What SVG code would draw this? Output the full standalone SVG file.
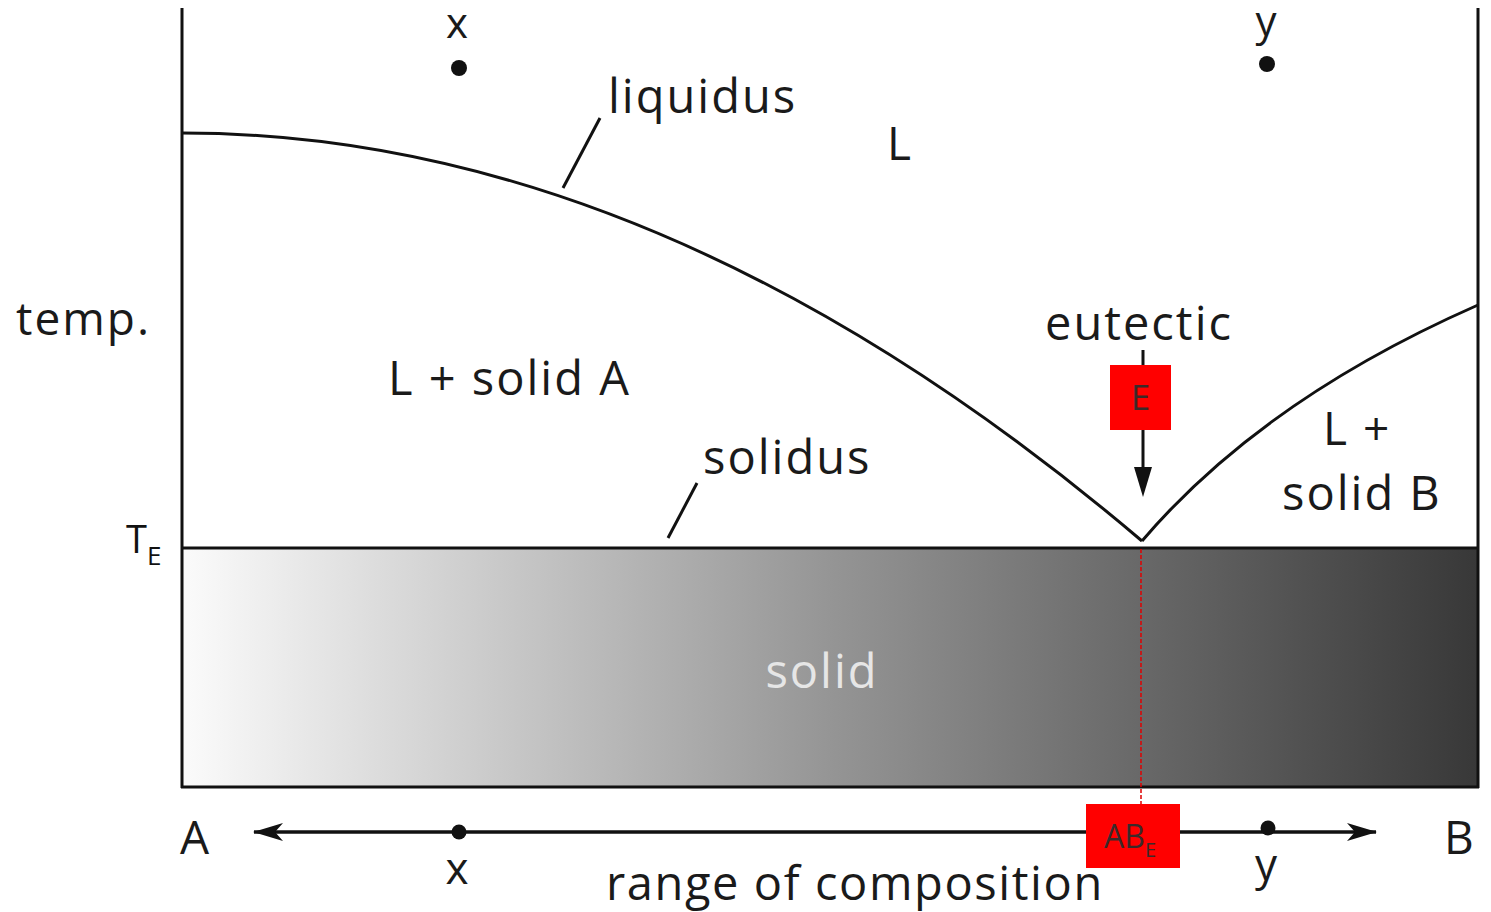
<svg xmlns="http://www.w3.org/2000/svg" width="1491" height="912" viewBox="0 0 1491 912">
<style>
.t{font-family:"Open Sans","Noto Sans","Liberation Sans",sans-serif;fill:#1a1a1a;letter-spacing:2px}
.c{font-family:"Open Sans","Liberation Sans",sans-serif;fill:#3a2a2a}
.ln{stroke:#111;stroke-width:3;fill:none}
.tk{stroke:#111;stroke-width:3;fill:none}
</style>
<defs>
<linearGradient id="g" x1="0" y1="0" x2="1" y2="0">
<stop offset="0" stop-color="#fbfbfb"/>
<stop offset="0.5" stop-color="#959595"/>
<stop offset="1" stop-color="#383838"/>
</linearGradient>
<marker id="ah" viewBox="0 0 30 20" refX="29" refY="10" markerWidth="30" markerHeight="20" markerUnits="userSpaceOnUse" orient="auto-start-reverse">
<path d="M0,1 L30,10 L0,19 L8,10 Z" fill="#111"/>
</marker>
</defs>
<rect width="1491" height="912" fill="#fff"/>
<g id="solid-region">
<rect x="182" y="548" width="1296" height="239" fill="url(#g)"/>
<text class="t" x="822" y="688" font-size="47" text-anchor="middle" style="fill:#e6e6e6">solid</text>
</g>
<g id="axes">
<line class="ln" x1="182" y1="8" x2="182" y2="788"/>
<line class="ln" x1="1478" y1="8" x2="1478" y2="788"/>
<line class="ln" x1="181" y1="787" x2="1479" y2="787"/>
<line class="ln" x1="182" y1="548" x2="1478" y2="548"/>
</g>
<g id="connectors">
<path class="ln" d="M182,133 Q662,133 1142,541"/>
<path class="ln" d="M1142,541 Q1262,400 1478,305"/>
<line class="tk" x1="600" y1="118" x2="563" y2="188"/>
<line class="tk" x1="697" y1="483" x2="668" y2="538"/>
<line x1="1143" y1="350" x2="1143" y2="470" stroke="#111" stroke-width="3"/>
<path d="M1134,467 L1152,467 L1143,497 Z" fill="#111"/>
<line x1="1141" y1="549" x2="1141" y2="805" stroke="#e00000" stroke-width="1.5" stroke-dasharray="4,2"/>
<line x1="254" y1="832" x2="1376" y2="832" stroke="#111" stroke-width="3.5" marker-start="url(#ah)" marker-end="url(#ah)"/>
</g>
<g id="points">
<circle cx="459" cy="68" r="8" fill="#111"/>
<circle cx="1267" cy="64" r="8" fill="#111"/>
<circle cx="459" cy="832" r="7.5" fill="#111"/>
<circle cx="1268" cy="828" r="7.5" fill="#111"/>
</g>
<g id="labels">
<text class="t" x="458" y="38" font-size="42" text-anchor="middle">x</text>
<text class="t" x="1267" y="36" font-size="42" text-anchor="middle">y</text>
<text class="t" x="458" y="884" font-size="44" text-anchor="middle">x</text>
<text class="t" x="1267" y="880" font-size="44" text-anchor="middle">y</text>
<text class="t" x="608" y="113" font-size="47">liquidus</text>
<text class="t" x="887" y="160" font-size="46">L</text>
<text class="t" x="16" y="335" font-size="46">temp.</text>
<text class="t" x="388" y="395" font-size="47">L + solid A</text>
<text class="t" x="1045" y="340" font-size="47">eutectic</text>
<text class="t" x="703" y="474" font-size="47">solidus</text>
<text class="t" x="1323" y="445" font-size="46">L +</text>
<text class="t" x="1282" y="510" font-size="47">solid B</text>
<text class="t" x="180" y="854" font-size="46">A</text>
<text class="t" x="1444" y="854" font-size="46">B</text>
<text class="t" x="606" y="900" font-size="47" style="letter-spacing:1.6px">range of composition</text>
<text class="c" x="126" y="553" font-size="38" style="fill:#111">T<tspan font-size="26" dy="12">E</tspan></text>
</g>
<g id="node-E">
<rect x="1110" y="365" width="61" height="65" fill="#ff0000"/>
<text class="c" x="1140.5" y="410" font-size="35" text-anchor="middle">E</text>
</g>
<g id="node-ABE">
<rect x="1086" y="804" width="94" height="64" fill="#ff0000"/>
<text class="c" x="1104" y="848" font-size="32">AB<tspan font-size="20" dy="9">E</tspan></text>
</g>
</svg>
